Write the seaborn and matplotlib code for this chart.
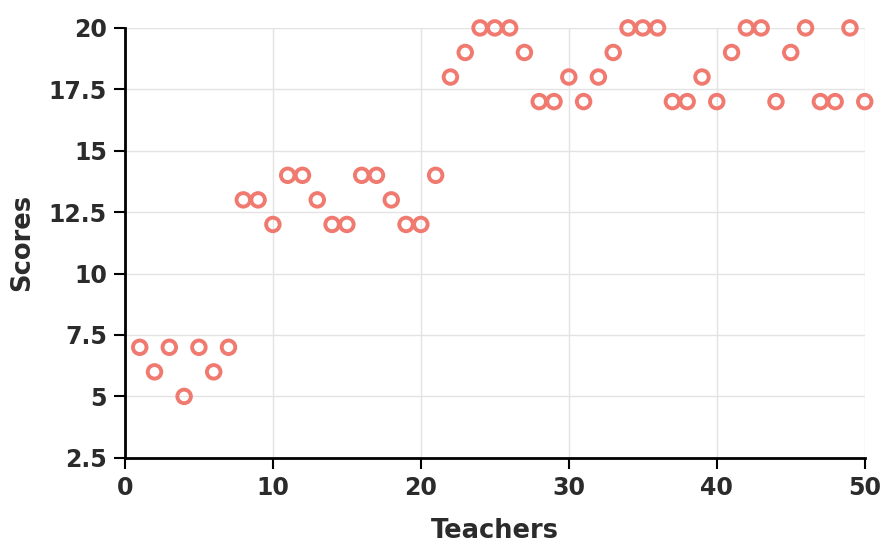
import pandas as pd
import seaborn as sns
import matplotlib.pyplot as plt

# data
teachers = list(range(1, 51))
scores = [7, 6, 7, 5, 7, 6, 7, 13, 13, 12,
          14, 14, 13, 12, 12, 14, 14, 13, 12, 12,
          14, 18, 19, 20, 20, 20, 19, 17, 17, 18,
          17, 18, 19, 20, 20, 20, 17, 17, 18, 17,
          19, 20, 20, 17, 19, 20, 17, 17, 20, 17]
x_ticks = [0, 10, 20, 30, 40, 50]
y_ticks = [2.5, 5, 7.5, 10, 12.5, 15, 17.5, 20]
y_labels = ["2.5", "5", "7.5", "10", "12.5", "15", "17.5", "20"]

df = pd.DataFrame({"Teachers": teachers, "Scores": scores})

sns.set_style("white", {"xtick.bottom": True, "ytick.left": True})
plt.rcParams["font.family"] = ["DejaVu Sans"]
text_color = "#2b2b2b"

fig = plt.figure(figsize=(8.86, 5.47), dpi=100)
ax = fig.add_axes([0.141, 0.163, 0.835, 0.786])

sns.scatterplot(
    data=df, x="Teachers", y="Scores", ax=ax,
    marker="o", s=95, facecolor="none",
    edgecolor="#f07a70", linewidth=2.8, zorder=3, clip_on=False
)

ax.set_xlim(0, 50)
ax.set_ylim(2.5, 20)
ax.set_xticks(x_ticks)
ax.set_yticks(y_ticks)
ax.set_yticklabels(y_labels)
ax.grid(True, color="#e3e3e3", linewidth=1)
ax.set_axisbelow(True)

for s in ["top", "right"]:
    ax.spines[s].set_visible(False)
for s in ["left", "bottom"]:
    ax.spines[s].set_color("black")
    ax.spines[s].set_linewidth(2)

ax.tick_params(axis="both", direction="out", length=8, width=1.5,
               bottom=True, left=True,
               color="black", labelsize=17, labelcolor=text_color, pad=5)
for lab in ax.get_xticklabels() + ax.get_yticklabels():
    lab.set_fontweight("heavy")

ax.set_xlabel("Teachers", fontsize=18.5, fontweight="heavy", color=text_color, labelpad=13)
ax.set_ylabel("Scores", fontsize=18.5, fontweight="heavy", color=text_color, labelpad=10)

plt.savefig("out.png", dpi=100)
plt.close()
